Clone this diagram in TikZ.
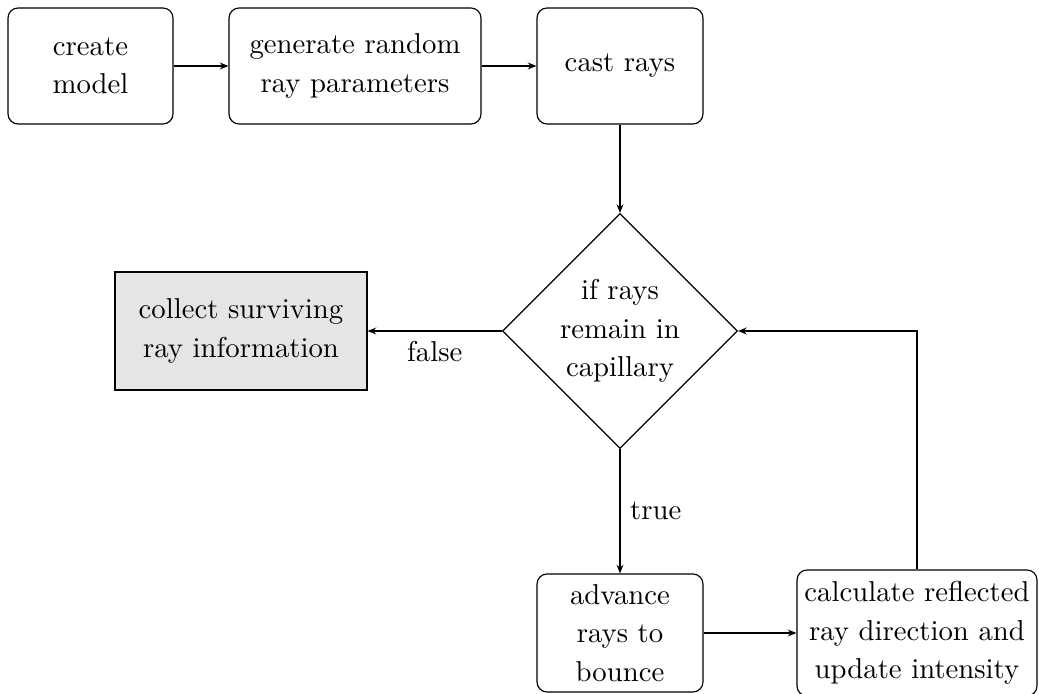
\documentclass[tikz,border=0pt]{standalone}
\usetikzlibrary{shapes.geometric,arrows.meta}
\newcommand\pxu{0.348pt}
\begin{document}
\begin{tikzpicture}[x=\pxu,y=-\pxu,
  txt/.style={align=center, font=\fontsize{10}{13.4}\selectfont},
  procbox/.style={txt, draw, rounded corners=3.5pt, inner sep=1pt},
  plainbox/.style={txt, draw, fill=black!10, inner sep=1pt},
  decision/.style={txt, draw, diamond, aspect=1, inner sep=0pt,
    minimum width={235*\pxu}, minimum height={235*\pxu}},
  conn/.style={-{Stealth[length=3pt,width=2.4pt]}},
  lbl/.style={font=\fontsize{10}{13.4}\selectfont}]
\useasboundingbox (0,0) rectangle (1039,694);
\node[procbox, minimum width={165*\pxu}, minimum height={116*\pxu}] (create) at (90.5,66) {create\\model};
\node[procbox, minimum width={252*\pxu}, minimum height={116*\pxu}] (gen) at (355,66) {generate random\\ray parameters};
\node[procbox, minimum width={166*\pxu}, minimum height={116*\pxu}] (cast) at (620,66) {cast rays};
\node[decision] (dec) at (620,331) {if rays\\remain in\\capillary};
\node[plainbox, minimum width={252*\pxu}, minimum height={118*\pxu}] (coll) at (241,331) {collect surviving\\ray information};
\node[procbox, minimum width={166*\pxu}, minimum height={118*\pxu}] (adv) at (620,633) {advance\\rays to\\bounce};
\node[procbox, minimum width={240*\pxu}, minimum height={126*\pxu}] (calc) at (917,633) {calculate reflected\\ray direction and\\update intensity};
\draw[conn] (create) -- (gen);
\draw[conn] (gen) -- (cast);
\draw[conn] (cast) -- (dec);
\draw[conn] (dec) -- node[lbl, below] {false} (coll);
\draw[conn] (dec) -- node[lbl, right] {true} (adv);
\draw[conn] (adv) -- (calc);
\draw[conn] (calc.north) |- (dec.east);
\end{tikzpicture}
\end{document}
